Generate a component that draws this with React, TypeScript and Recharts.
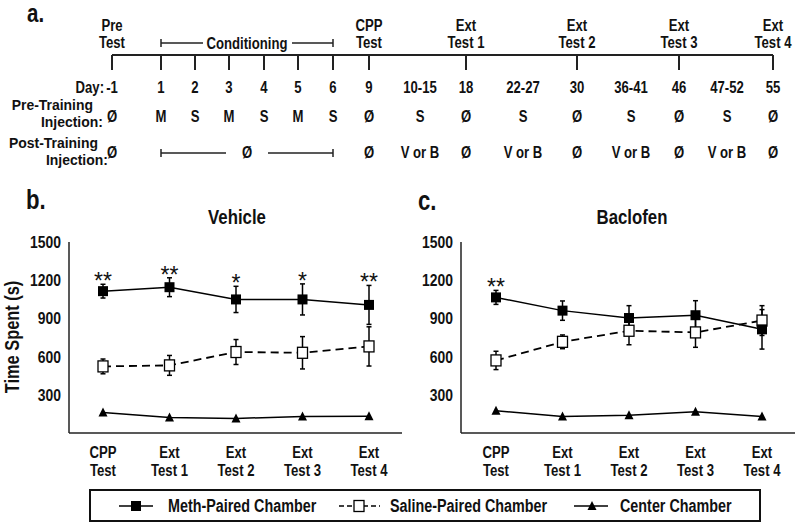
import React from "react";
import { ErrorBar, LabelList, Line, LineChart, XAxis, YAxis } from "recharts";

// panel b/c data
const tests = ["CPP Test", "Ext Test 1", "Ext Test 2", "Ext Test 3", "Ext Test 4"];
const timeTicks = [300, 600, 900, 1200, 1500];

const vehicleMeth = [1114, 1145, 1049, 1049, 1006];
const vehicleMethErr = [54, 74, 103, 122, 153];
const vehicleSaline = [523, 531, 636, 630, 680];
const vehicleSalineErr = [58, 78, 98, 127, 154];
const vehicleCenter = [161, 122, 114, 130, 131];
const vehicleSig = ["**", "**", "*", "*", "**"];

const baclofenMeth = [1065, 961, 903, 925, 814];
const baclofenMethErr = [55, 76, 97, 114, 155];
const baclofenSaline = [570, 716, 803, 790, 883];
const baclofenSalineErr = [72, 54, 110, 117, 117];
const baclofenCenter = [174, 130, 140, 166, 130];
const baclofenSig = ["**", "", "", "", ""];

// panel a timeline
const dayLabels = ["-1", "1", "2", "3", "4", "5", "6", "9", "10-15", "18", "22-27", "30", "36-41", "46", "47-52", "55"];
const preTraining = ["Ø", "M", "S", "M", "S", "M", "S", "Ø", "S", "Ø", "S", "Ø", "S", "Ø", "S", "Ø"];
const postTraining = ["Ø", "", "", "", "", "", "", "Ø", "V or B", "Ø", "V or B", "Ø", "V or B", "Ø", "V or B", "Ø"];
const milestoneCols = [0, 7, 9, 11, 13, 15];
const milestoneTop = ["Pre", "CPP", "Ext", "Ext", "Ext", "Ext"];
const milestoneBottom = ["Test", "Test", "Test 1", "Test 2", "Test 3", "Test 4"];
const tickCols = [0, 1, 2, 3, 4, 5, 6, 7, 9, 11, 13, 15];

const colX = [112, 161, 195, 229, 264, 298, 333, 369, 420, 466, 523, 577, 631, 679, 727, 773];

const FONT = "'Liberation Sans', Arial, sans-serif";
const INK = "#111";
const SX = 0.82; // the figure's lettering is a condensed bold face

function buildRows(meth: number[], methErr: number[], saline: number[], salineErr: number[], center: number[], sig: string[]) {
  return tests.map((test, i) => ({
    test,
    meth: meth[i],
    methErr: methErr[i],
    saline: saline[i],
    salineErr: salineErr[i],
    center: center[i],
    sig: sig[i],
    sigTop: sig[i] ? meth[i] + methErr[i] : null,
  }));
}

const vehicleRows = buildRows(vehicleMeth, vehicleMethErr, vehicleSaline, vehicleSalineErr, vehicleCenter, vehicleSig);
const baclofenRows = buildRows(baclofenMeth, baclofenMethErr, baclofenSaline, baclofenSalineErr, baclofenCenter, baclofenSig);

interface INTextProps {
  x: number;
  y: number;
  size?: number;
  anchor?: "start" | "middle" | "end";
  rotate?: number;
  children: React.ReactNode;
}

function NText({ x, y, size = 16, anchor = "middle", rotate, children }: INTextProps) {
  const t = `translate(${x} ${y})${rotate ? ` rotate(${rotate})` : ""} scale(${SX} 1)`;
  return (
    <text transform={t} textAnchor={anchor} fontFamily={FONT} fontWeight="bold" fontSize={size} fill={INK}>
      {children}
    </text>
  );
}

// right-aligned two-line row heading, second line nudged right like the original
function RowHead({ x, y, top, bottom }: { x: number; y: number; top: string; bottom: string }) {
  return (
    <text transform={`translate(${x} ${y}) scale(0.9 1)`} textAnchor="end" fontFamily={FONT} fontWeight="bold" fontSize={15.5} fill={INK}>
      <tspan x={0} y={0}>{top}</tspan>
      <tspan x={11} y={17}>{bottom}</tspan>
    </text>
  );
}

const FilledSquare = (props: any) => {
  const { cx, cy, index } = props;
  if (cx == null || cy == null) return <g key={`fs${index}`} />;
  return <rect key={`fs${index}`} x={cx - 5} y={cy - 5} width={10} height={10} fill="#000" />;
};

const OpenSquare = (props: any) => {
  const { cx, cy, index } = props;
  if (cx == null || cy == null) return <g key={`os${index}`} />;
  return <rect key={`os${index}`} x={cx - 5} y={cy - 5.5} width={10} height={11} fill="#fff" stroke="#000" strokeWidth={1.3} />;
};

const Triangle = (props: any) => {
  const { cx, cy, index } = props;
  if (cx == null || cy == null) return <g key={`tr${index}`} />;
  return <path key={`tr${index}`} d={`M${cx},${cy - 5} L${cx + 4.5},${cy + 4} L${cx - 4.5},${cy + 4} Z`} fill="#000" />;
};

const TestTick = (props: any) => {
  const { x, y, payload } = props;
  const [first, ...rest] = String(payload.value).split(" ");
  return (
    <g>
      <NText x={x} y={y + 17}>{first}</NText>
      <NText x={x} y={y + 35}>{rest.join(" ")}</NText>
    </g>
  );
};

const TimeTick = (props: any) => {
  const { x, y, payload } = props;
  return (
    <NText x={x} y={y + 6} size={17} anchor="end">
      {payload.value}
    </NText>
  );
};

const SigLabel = (props: any) => {
  const { x, y, value } = props;
  if (!value || y == null || x == null) return null;
  return (
    <text x={x} y={y + 5} textAnchor="middle" fontFamily={FONT} fontSize={23} fill={INK}>
      {value}
    </text>
  );
};

interface IPanelProps {
  rows: ReturnType<typeof buildRows>;
  left: number;
  width: number;
  yAxisWidth: number;
  rightMargin: number;
  padLeft: number;
  padRight: number;
}

function Panel({ rows, left, width, yAxisWidth, rightMargin, padLeft, padRight }: IPanelProps) {
  const axisStyle = { stroke: "#222", strokeWidth: 1.5 };
  return (
    <div style={{ position: "absolute", left, top: 170 }}>
      <LineChart width={width} height={330} data={rows} margin={{ top: 72, right: rightMargin, bottom: 7, left: 0 }}>
        <XAxis
          dataKey="test"
          tick={<TestTick />}
          tickLine={false}
          axisLine={axisStyle}
          height={60}
          interval={0}
          padding={{ left: padLeft, right: padRight }}
        />
        <YAxis domain={[0, 1500]} ticks={timeTicks} width={yAxisWidth} tickLine={false} axisLine={axisStyle} tick={<TimeTick />} />
        <Line dataKey="center" stroke="#000" strokeWidth={1.5} dot={Triangle} activeDot={false} isAnimationActive={false} />
        <Line dataKey="saline" stroke="#000" strokeWidth={1.8} strokeDasharray="8 5" dot={OpenSquare} activeDot={false} isAnimationActive={false}>
          <ErrorBar dataKey="salineErr" width={2.5} strokeWidth={1.5} stroke="#000" />
        </Line>
        <Line dataKey="meth" stroke="#000" strokeWidth={1.5} dot={FilledSquare} activeDot={false} isAnimationActive={false}>
          <ErrorBar dataKey="methErr" width={2.5} strokeWidth={1.5} stroke="#000" />
        </Line>
        <Line dataKey="sigTop" stroke="none" dot={false} activeDot={false} isAnimationActive={false}>
          <LabelList dataKey="sig" content={SigLabel} />
        </Line>
      </LineChart>
    </div>
  );
}

function Timeline() {
  const bracket = (x1: number, x2: number, y: number, gapL: number, gapR: number) => (
    <g stroke="#222" strokeWidth={1.5}>
      <line x1={x1} y1={y} x2={gapL} y2={y} />
      <line x1={gapR} y1={y} x2={x2} y2={y} />
      <line x1={x1} y1={y - 4} x2={x1} y2={y + 4} />
      <line x1={x2} y1={y - 4} x2={x2} y2={y + 4} />
    </g>
  );
  return (
    <g>
      <NText x={27} y={22} size={25} anchor="start">a.</NText>
      {milestoneCols.map((c, i) => (
        <g key={`ms${c}`}>
          <NText x={colX[c]} y={31}>{milestoneTop[i]}</NText>
          <NText x={colX[c]} y={48}>{milestoneBottom[i]}</NText>
        </g>
      ))}
      {bracket(colX[1], colX[6], 43, 203, 292)}
      <NText x={247} y={49}>Conditioning</NText>
      <line x1={colX[0]} y1={55} x2={colX[15]} y2={55} stroke="#222" strokeWidth={2} />
      {tickCols.map((c) => (
        <line key={`tk${c}`} x1={colX[c]} y1={55} x2={colX[c]} y2={70} stroke="#222" strokeWidth={2} />
      ))}
      <NText x={104} y={93} anchor="end">Day:</NText>
      {dayLabels.map((d, i) => (
        <NText key={`d${i}`} x={colX[i]} y={93}>{d}</NText>
      ))}
      <RowHead x={93} y={110} top="Pre-Training" bottom="Injection:" />
      {preTraining.map((d, i) => (
        <NText key={`p${i}`} x={colX[i]} y={122}>{d}</NText>
      ))}
      <RowHead x={98} y={148} top="Post-Training" bottom="Injection:" />
      {postTraining.map((d, i) =>
        d ? (
          <NText key={`q${i}`} x={colX[i]} y={158}>{d}</NText>
        ) : null
      )}
      {bracket(colX[1], colX[6], 153, 226, 268)}
      <NText x={247} y={158}>Ø</NText>
    </g>
  );
}

function LegendBox() {
  return (
    <g>
      <rect x={90} y={490} width={670} height={31} fill="#fff" stroke="#111" strokeWidth={2} />
      <line x1={119} y1={506} x2={153} y2={506} stroke="#000" strokeWidth={1.5} />
      <rect x={131} y={501} width={10} height={10} fill="#000" />
      <NText x={168} y={512} size={17.5} anchor="start">Meth-Paired Chamber</NText>
      <line x1={339} y1={506} x2={380} y2={506} stroke="#000" strokeWidth={1.3} strokeDasharray="5 3" />
      <rect x={354} y={500.5} width={10} height={11} fill="#fff" stroke="#000" strokeWidth={1.3} />
      <NText x={390} y={512} size={17.5} anchor="start">Saline-Paired Chamber</NText>
      <line x1={574} y1={506} x2={608} y2={506} stroke="#000" strokeWidth={1.5} />
      <path d="M592,501 L596.5,510 L587.5,510 Z" fill="#000" />
      <NText x={620} y={512} size={17.5} anchor="start">Center Chamber</NText>
    </g>
  );
}

export default function App() {
  return (
    <div style={{ position: "absolute", left: 0, top: 0, width: 800, height: 527, background: "#fff", overflow: "hidden" }}>
      <svg width={800} height={527} style={{ position: "absolute", left: 0, top: 0 }}>
        <Timeline />
        <NText x={26} y={209} size={27} anchor="start">b.</NText>
        <NText x={418} y={210} size={27} anchor="start">c.</NText>
        <NText x={237} y={224} size={20.5}>Vehicle</NText>
        <NText x={632} y={224} size={20.5}>Baclofen</NText>
        <NText x={19} y={337} size={20} rotate={-90}>Time Spent (s)</NText>
        <LegendBox />
      </svg>
      <Panel rows={vehicleRows} left={0} width={410} yAxisWidth={69} rightMargin={8} padLeft={34} padRight={33} />
      <Panel rows={baclofenRows} left={400} width={400} yAxisWidth={61} rightMargin={5} padLeft={35} padRight={33} />
    </div>
  );
}
